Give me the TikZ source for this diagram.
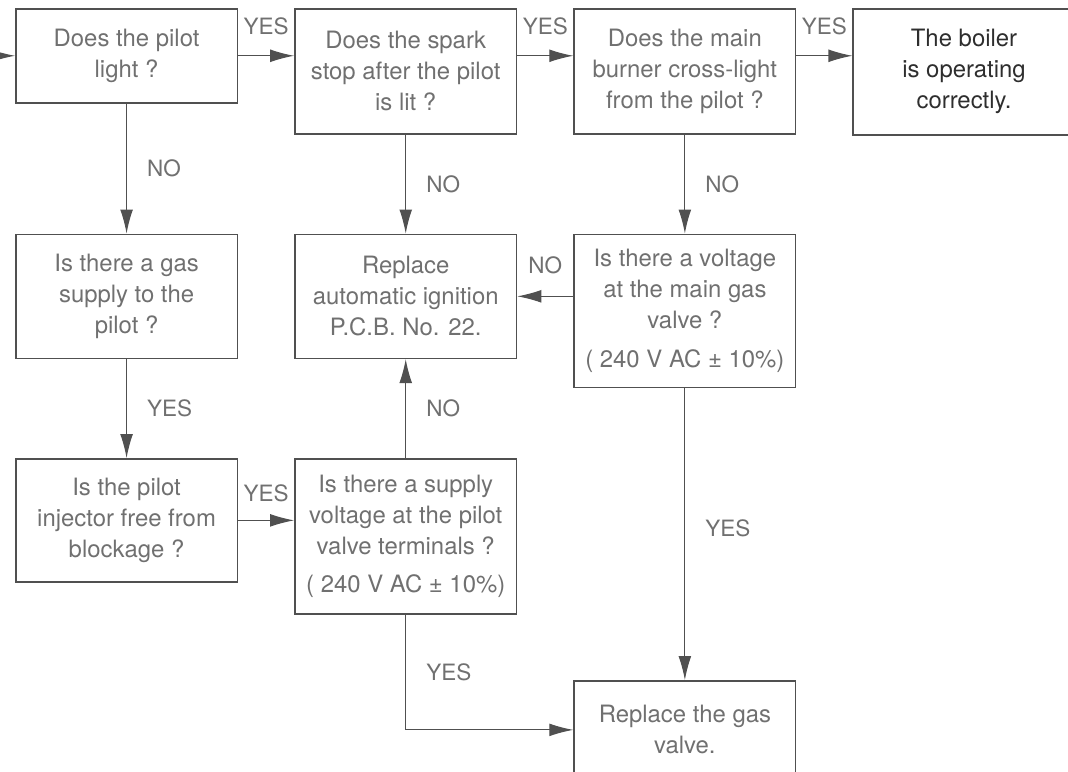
\documentclass[tikz,border=0pt]{standalone}
\usepackage{fontspec}
\setmainfont{TeX Gyre Heros}
\usetikzlibrary{arrows.meta,positioning}
\definecolor{linegray}{HTML}{505050}
\definecolor{textgray}{HTML}{707070}
\definecolor{darktext}{HTML}{2E2E2E}

\begin{document}
\begin{tikzpicture}[
  box/.style={draw=linegray, line width=1.1pt, minimum width=5.54cm, inner sep=2pt, align=center, text=textgray, font=\fontsize{17}{22}\selectfont},
  lbl/.style={inner sep=0pt, text=textgray, font=\fontsize{16}{20}\selectfont},
  >={Latex[length=6mm,width=3.2mm]},
  arr/.style={->, draw=linegray, line width=0.8pt}
]
  \path[use as bounding box, clip] (0,0) rectangle (26.7,-19.275);
  \node[box, minimum height=2.35cm, anchor=north west] (pilot) at (0.375,-0.2) {Does the pilot\\light ?};
  \node[box, minimum height=3.125cm, right=1.4cm of pilot.north east, anchor=north west] (spark) {Does the spark\\stop after the pilot\\is lit ?};
  \node[box, minimum height=3.125cm, right=1.4cm of spark.north east, anchor=north west] (burner) {Does the main\\burner cross-light\\from the pilot ?};
  \node[box, minimum height=3.15cm, text=darktext, right=1.4cm of burner.north east, anchor=north west] (boiler) {The boiler\\is operating\\correctly.};
  \node[box, minimum height=3.1cm, below=3.25cm of pilot.south west, anchor=north west] (gas) {Is there a gas\\supply to the\\pilot ?};
  \node[box, minimum height=3.1cm, right=1.4cm of gas.north east, anchor=north west] (ignition) {Replace\\automatic ignition\\P.C.B. No. 22.};
  \node[box, minimum height=3.825cm, right=1.4cm of ignition.north east, anchor=north west] (mainvalve) {Is there a voltage\\at the main gas\\valve ?\\[0.22cm]( 240 V AC ± 10\%)};
  \node[box, minimum height=3.075cm, below=2.475cm of gas.south west, anchor=north west] (injector) {Is the pilot\\injector free from\\blockage ?};
  \node[box, minimum height=3.875cm, right=1.4cm of injector.north east, anchor=north west] (pilotvalve) {Is there a supply\\voltage at the pilot\\valve terminals ?\\[0.18cm]( 240 V AC ± 10\%)};
  \node[box, minimum height=2.45cm, below=7.3cm of mainvalve.south west, anchor=north west] (gasvalve) {Replace the gas\\valve.};
  \coordinate[left=0.5cm of pilot.west] (start);

  \draw[arr] (start) -- (pilot.west);
  \draw[arr] (pilot.east) -- (pilot.east -| spark.west) node[lbl, midway, above=0.5cm] {YES};
  \draw[arr] (pilot.east -| spark.east) -- (pilot.east -| burner.west) node[lbl, midway, above=0.5cm] {YES};
  \draw[arr] (pilot.east -| burner.east) -- (pilot.east -| boiler.west) node[lbl, midway, above=0.5cm] {YES};
  \draw[arr] (pilot) -- (gas) node[lbl, midway, right=0.5cm] {NO};
  \draw[arr] (spark) -- (ignition) node[lbl, midway, right=0.5cm] {NO};
  \draw[arr] (burner) -- (mainvalve) node[lbl, midway, right=0.5cm] {NO};
  \draw[arr] (mainvalve.west |- ignition.east) -- (ignition.east) node[lbl, midway, above=0.55cm] {NO};
  \draw[arr] (gas) -- (injector) node[lbl, midway, right=0.5cm] {YES};
  \draw[arr] (injector.east) -- (injector.east -| pilotvalve.west) node[lbl, midway, above=0.45cm] {YES};
  \draw[arr] (pilotvalve) -- (ignition) node[lbl, midway, right=0.5cm] {NO};
  \draw[arr] (mainvalve) -- (gasvalve) node[lbl, pos=0.48, right=0.5cm] {YES};
  \draw[arr] (pilotvalve.south) |- (gasvalve.west) node[lbl, pos=0.25, right=0.5cm] {YES};
\end{tikzpicture}
\end{document}
